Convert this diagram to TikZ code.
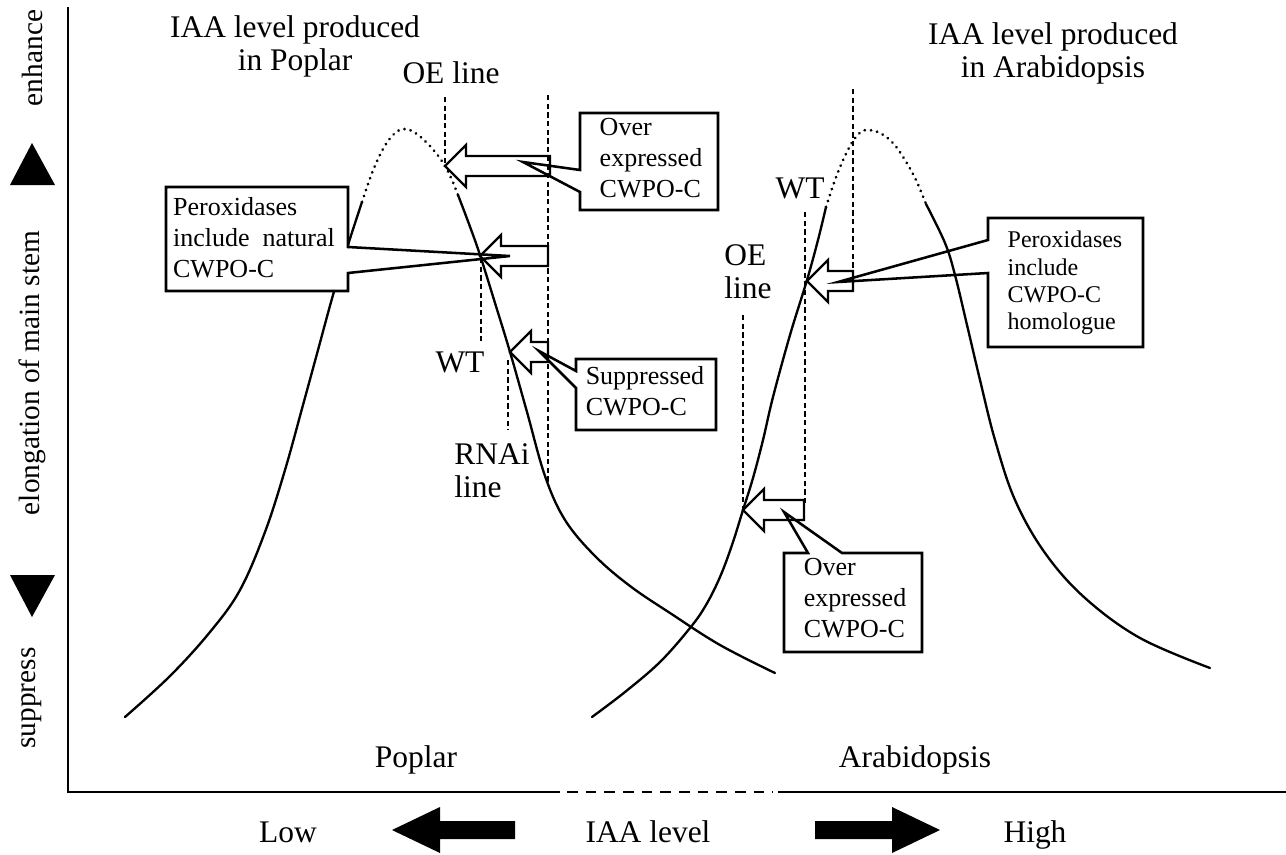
\documentclass[tikz,border=0pt]{standalone}
\usepackage{fontspec}
\setmainfont{Liberation Serif}
\newcommand\mainsz{\fontsize{23.6pt}{24.75pt}\selectfont}
\newcommand\axsz{\fontsize{22pt}{24pt}\selectfont}
\newcommand\callsz{\fontsize{19.5pt}{23.25pt}\selectfont}
\newcommand\homsz{\fontsize{18pt}{20.6pt}\selectfont}
\newcommand\hollowarr[3]{%
  \draw[hollow] (#1,#2) -- ++(21,-21) -- ++(0,11) -- (#3,#2-10) -- (#3,#2+10) -- (#1+21,#2+10) -- ++(0,11) -- cycle;}
\begin{document}
\begin{tikzpicture}[x=0.75pt,y=-0.75pt,
  curve/.style={line width=1.75pt, line join=round, line cap=round},
  dotcurve/.style={line width=2.2pt, dash pattern=on 0.1pt off 4.6pt, line cap=round},
  vdash/.style={line width=1.7pt, dash pattern=on 3.9pt off 2.6pt},
  hollow/.style={line width=1.75pt, line join=miter},
  callout/.style={line width=1.9pt, line join=miter},
  axis/.style={line width=2pt},
  lbl/.style={font=\mainsz, inner sep=0pt},
  axlbl/.style={font=\axsz, inner sep=0pt, rotate=90},
  ctext/.style={font=\callsz, inner sep=0pt, align=left},
  solidarrow/.style={fill=black, draw=none}]
\useasboundingbox (0,0) rectangle (1286,854);

% axes
\draw[axis] (68,7) -- (68,792) -- (560,792);
\draw[axis, dash pattern=on 8pt off 6pt] (567,792) -- (773,792);
\draw[axis] (778,792) -- (1286,792);

% y-axis labels
\node[axlbl] (enh) at (32,58) {enhance};
\node[axlbl] (elong) at (32,373) {elongation of main stem};
\node[axlbl] (supp) at (32,698) {suppress};
\fill (32,143) -- (55,185) -- (10,185) -- cycle;
\fill (10,575) -- (55,575) -- (32,617) -- cycle;

% bottom labels and arrows
\node[lbl, anchor=base] (low) at (288,842) {Low};
\node[lbl, anchor=base] (iaa) at (648,842) {IAA level};
\node[lbl, anchor=base] (high) at (1035,842) {High};
\fill[solidarrow] (392,830) -- (440,807) -- (440,821) -- (515,821) -- (515,839) -- (440,839) -- (440,853) -- cycle;
\fill[solidarrow] (940,830) -- (892,807) -- (892,821) -- (815,821) -- (815,839) -- (892,839) -- (892,853) -- cycle;
\node[lbl, anchor=base] (poplar) at (416,767) {Poplar};
\node[lbl, anchor=base] (arab) at (915,767) {Arabidopsis};

% titles
\node[lbl, align=center] (tpop) at (295,46) {IAA level produced\\in Poplar};
\node[lbl, align=center] (tarab) at (1053,53) {IAA level produced\\in Arabidopsis};

% Poplar curve
\draw[curve] plot[smooth, tension=0.6] coordinates {(125,717) (170,676) (210,632) (240,590) (265,532) (285,470) (303,405) (318,350) (333,295) (348,245) (362,202)};
\draw[dotcurve] plot[smooth, tension=0.6] coordinates {(362,202) (372,173) (383,149) (393,135) (402,129) (412,131) (424,140) (436,153) (445,166) (452,180) (458,195)};
\draw[curve] plot[smooth, tension=0.6] coordinates {(458,195) (469,224) (480,255) (495,303) (510,352) (527,412) (545,476) (565,520) (595,556) (630,586) (670,613) (720,645) (775,673)};

% Arabidopsis curve
\draw[curve] plot[smooth, tension=0.6] coordinates {(592,717) (625,692) (660,662) (690,628) (706,605) (720,577) (732,545) (743,510) (753,478) (763,440) (773,397) (790,335) (807,280) (818,240) (826,207)};
\draw[dotcurve] plot[smooth, tension=0.6] coordinates {(826,207) (835,180) (844,158) (853,141) (861,132) (868,130) (880,133) (893,143) (905,160) (916,180) (926,204)};
\draw[curve] plot[smooth, tension=0.6] coordinates {(926,204) (945,243) (955,275) (967,325) (980,380) (995,440) (1015,500) (1045,553) (1085,598) (1140,638) (1210,668)};

% named points on curves
\coordinate (pOE) at (445,166);
\coordinate (pWT) at (480,255);
\coordinate (pRN) at (510,352);
\coordinate (aWT) at (807,281);
\coordinate (aOE) at (743,510);

% dashed marker lines
\draw[vdash] (445,97) -- (pOE);
\draw[vdash] (548,95) -- (548,482);
\draw[vdash] (481,258) -- (481,342);
\draw[vdash] (508,360) -- (508,430);
\draw[vdash] (853,89) -- (853,282);
\draw[vdash] (805,212) -- (805,505);
\draw[vdash] (743,315) -- (aOE);

% callouts
\fill[white] (166,187) rectangle (348,291);
\draw[callout] (166,187) -- (348,187) -- (348,247) -- (510,256) -- (348,273) -- (348,291) -- (166,291) -- cycle;
\node[ctext] (cPer) at (254,238) {Peroxidases\\include\hspace{0.5em}natural\\CWPO-C};

\draw[callout] (580,113) -- (718,113) -- (718,210) -- (580,210) -- (580,192) -- (523,162) -- (580,170) -- cycle;
\node[ctext] (cOver1) at (651,158) {Over\\expressed\\CWPO-C};

\draw[callout] (576,359) -- (716,359) -- (716,430) -- (576,430) -- (576,388) -- (539,351) -- (576,371) -- cycle;
\node[ctext] (cSup) at (645,391) {Suppressed\\CWPO-C};

\draw[callout] (988,218) -- (1143,218) -- (1143,347) -- (988,347) -- (988,273) -- (838,282) -- (988,240) -- cycle;
\node[ctext, font=\homsz] (cHom) at (1065,283) {Peroxidases\\include\\CWPO-C\\homologue};

\draw[callout] (784,553) -- (808,553) -- (784,512) -- (842,553) -- (922,553) -- (922,652) -- (784,652) -- cycle;
\node[ctext] (cOver2) at (855,598) {Over\\expressed\\CWPO-C};

% hollow arrows
\hollowarr{445}{166}{550}
\hollowarr{480}{256}{548}
\hollowarr{510}{352}{548}
\hollowarr{807}{281}{853}
\hollowarr{743}{510}{804}

% line labels
\node[lbl, anchor=base] (lOE) at (451,83) {OE line};
\node[lbl, anchor=base] (lWT) at (460,372) {WT};
\node[lbl, align=left] (lRN) at (492,471) {RNAi\\line};
\node[lbl, anchor=base] (rWT) at (800,198) {WT};
\node[lbl, align=left] (rOE) at (748,272) {OE\\line};
\end{tikzpicture}
\end{document}
